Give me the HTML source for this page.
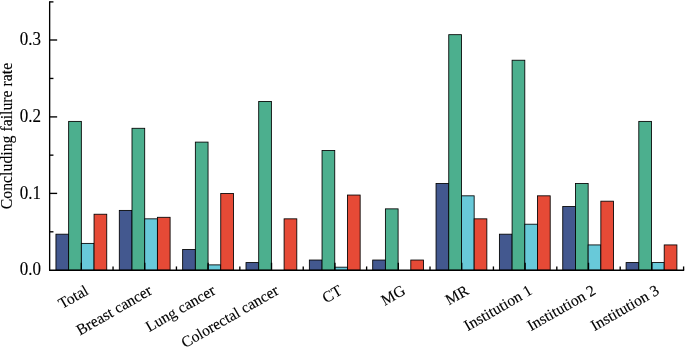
<!DOCTYPE html><html><head><meta charset="utf-8"><title>chart</title><style>html,body{margin:0;padding:0;background:#fff}body{width:685px;height:347px;overflow:hidden}</style></head><body><svg width="685" height="347" viewBox="0 0 685 347" style="display:block;font-family:'Liberation Serif',serif;font-size:16px" fill="#000">
<rect width="685" height="347" fill="#fff"/>
<rect x="55.95" y="234.19" width="12.70" height="36.06" fill="#43588f" stroke="#000" stroke-width="0.85"/>
<rect x="68.65" y="121.39" width="12.70" height="148.86" fill="#4caf8e" stroke="#000" stroke-width="0.85"/>
<rect x="81.35" y="243.39" width="12.70" height="26.86" fill="#68c9d9" stroke="#000" stroke-width="0.85"/>
<rect x="94.05" y="214.23" width="12.70" height="56.02" fill="#e64a36" stroke="#000" stroke-width="0.85"/>
<rect x="119.30" y="210.40" width="12.70" height="59.85" fill="#43588f" stroke="#000" stroke-width="0.85"/>
<rect x="132.00" y="128.29" width="12.70" height="141.96" fill="#4caf8e" stroke="#000" stroke-width="0.85"/>
<rect x="144.70" y="218.84" width="12.70" height="51.41" fill="#68c9d9" stroke="#000" stroke-width="0.85"/>
<rect x="157.40" y="217.30" width="12.70" height="52.95" fill="#e64a36" stroke="#000" stroke-width="0.85"/>
<rect x="182.65" y="249.53" width="12.70" height="20.72" fill="#43588f" stroke="#000" stroke-width="0.85"/>
<rect x="195.35" y="142.11" width="12.70" height="128.14" fill="#4caf8e" stroke="#000" stroke-width="0.85"/>
<rect x="208.05" y="264.88" width="12.70" height="5.37" fill="#68c9d9" stroke="#000" stroke-width="0.85"/>
<rect x="220.75" y="193.52" width="12.70" height="76.73" fill="#e64a36" stroke="#000" stroke-width="0.85"/>
<rect x="246.00" y="262.58" width="12.70" height="7.67" fill="#43588f" stroke="#000" stroke-width="0.85"/>
<rect x="258.70" y="101.44" width="12.70" height="168.81" fill="#4caf8e" stroke="#000" stroke-width="0.85"/>
<rect x="284.10" y="218.84" width="12.70" height="51.41" fill="#e64a36" stroke="#000" stroke-width="0.85"/>
<rect x="309.35" y="260.04" width="12.70" height="10.21" fill="#43588f" stroke="#000" stroke-width="0.85"/>
<rect x="322.05" y="150.55" width="12.70" height="119.70" fill="#4caf8e" stroke="#000" stroke-width="0.85"/>
<rect x="334.75" y="267.18" width="12.70" height="3.07" fill="#68c9d9" stroke="#000" stroke-width="0.85"/>
<rect x="347.45" y="195.05" width="12.70" height="75.20" fill="#e64a36" stroke="#000" stroke-width="0.85"/>
<rect x="372.70" y="260.04" width="12.70" height="10.21" fill="#43588f" stroke="#000" stroke-width="0.85"/>
<rect x="385.40" y="208.86" width="12.70" height="61.39" fill="#4caf8e" stroke="#000" stroke-width="0.85"/>
<rect x="410.80" y="260.04" width="12.70" height="10.21" fill="#e64a36" stroke="#000" stroke-width="0.85"/>
<rect x="436.05" y="183.54" width="12.70" height="86.71" fill="#43588f" stroke="#000" stroke-width="0.85"/>
<rect x="448.75" y="34.68" width="12.70" height="235.57" fill="#4caf8e" stroke="#000" stroke-width="0.85"/>
<rect x="461.45" y="195.82" width="12.70" height="74.43" fill="#68c9d9" stroke="#000" stroke-width="0.85"/>
<rect x="474.15" y="218.84" width="12.70" height="51.41" fill="#e64a36" stroke="#000" stroke-width="0.85"/>
<rect x="499.40" y="234.19" width="12.70" height="36.06" fill="#43588f" stroke="#000" stroke-width="0.85"/>
<rect x="512.10" y="60.23" width="12.70" height="210.02" fill="#4caf8e" stroke="#000" stroke-width="0.85"/>
<rect x="524.80" y="224.21" width="12.70" height="46.04" fill="#68c9d9" stroke="#000" stroke-width="0.85"/>
<rect x="537.50" y="195.82" width="12.70" height="74.43" fill="#e64a36" stroke="#000" stroke-width="0.85"/>
<rect x="562.75" y="206.56" width="12.70" height="63.69" fill="#43588f" stroke="#000" stroke-width="0.85"/>
<rect x="575.45" y="183.54" width="12.70" height="86.71" fill="#4caf8e" stroke="#000" stroke-width="0.85"/>
<rect x="588.15" y="244.93" width="12.70" height="25.32" fill="#68c9d9" stroke="#000" stroke-width="0.85"/>
<rect x="600.85" y="201.19" width="12.70" height="69.06" fill="#e64a36" stroke="#000" stroke-width="0.85"/>
<rect x="626.10" y="262.58" width="12.70" height="7.67" fill="#43588f" stroke="#000" stroke-width="0.85"/>
<rect x="638.80" y="121.39" width="12.70" height="148.86" fill="#4caf8e" stroke="#000" stroke-width="0.85"/>
<rect x="651.50" y="262.58" width="12.70" height="7.67" fill="#68c9d9" stroke="#000" stroke-width="0.85"/>
<rect x="664.20" y="244.93" width="12.70" height="25.32" fill="#e64a36" stroke="#000" stroke-width="0.85"/>
<g stroke="#000" stroke-width="1.35" fill="none">
<path d="M49.65 1.25V270.80"/>
<path d="M49.1 270.25H684.15"/>
<path d="M49.65 1.90h3.8"/>
<path d="M49.65 40.00h7.5"/>
<path d="M49.65 78.45h3.8"/>
<path d="M49.65 116.90h7.5"/>
<path d="M49.65 155.15h3.8"/>
<path d="M49.65 193.40h7.5"/>
<path d="M49.65 231.80h3.8"/>
<path d="M81.35 270.25v-7.5"/>
<path d="M113.05 270.25v-3.8"/>
<path d="M144.74 270.25v-7.5"/>
<path d="M176.44 270.25v-3.8"/>
<path d="M208.14 270.25v-7.5"/>
<path d="M239.84 270.25v-3.8"/>
<path d="M271.53 270.25v-7.5"/>
<path d="M303.23 270.25v-3.8"/>
<path d="M334.93 270.25v-7.5"/>
<path d="M366.62 270.25v-3.8"/>
<path d="M398.32 270.25v-7.5"/>
<path d="M430.02 270.25v-3.8"/>
<path d="M461.72 270.25v-7.5"/>
<path d="M493.42 270.25v-3.8"/>
<path d="M525.11 270.25v-7.5"/>
<path d="M556.81 270.25v-3.8"/>
<path d="M588.51 270.25v-7.5"/>
<path d="M620.21 270.25v-3.8"/>
<path d="M651.90 270.25v-7.5"/>
<path d="M683.60 270.25v-3.8"/>
</g>
<g stroke="#000" stroke-width="0.12" stroke-linejoin="round">
<text transform="translate(41.0 275.25) scale(1 1.08)" text-anchor="end" font-size="17">0.0</text>
<text transform="translate(41.0 198.52) scale(1 1.08)" text-anchor="end" font-size="17">0.1</text>
<text transform="translate(41.0 121.78) scale(1 1.08)" text-anchor="end" font-size="17">0.2</text>
<text transform="translate(41.0 45.05) scale(1 1.08)" text-anchor="end" font-size="17">0.3</text>
<text transform="translate(12.3 136) rotate(-90)" text-anchor="middle" font-size="15.8">Concluding failure rate</text>
<text transform="translate(84.15 284.0) rotate(-30)" text-anchor="end" dy="0.7em" font-size="15.6">Total</text>
<text transform="translate(147.54 284.0) rotate(-30)" text-anchor="end" dy="0.7em" font-size="15.6">Breast cancer</text>
<text transform="translate(210.94 284.0) rotate(-30)" text-anchor="end" dy="0.7em" font-size="15.6">Lung cancer</text>
<text transform="translate(274.33 284.0) rotate(-30)" text-anchor="end" dy="0.7em" font-size="15.6">Colorectal cancer</text>
<text transform="translate(337.73 284.0) rotate(-30)" text-anchor="end" dy="0.7em" font-size="15.6">CT</text>
<text transform="translate(401.12 284.0) rotate(-30)" text-anchor="end" dy="0.7em" font-size="15.6">MG</text>
<text transform="translate(464.52 284.0) rotate(-30)" text-anchor="end" dy="0.7em" font-size="15.6">MR</text>
<text transform="translate(527.91 284.0) rotate(-30)" text-anchor="end" dy="0.7em" font-size="15.6">Institution 1</text>
<text transform="translate(591.31 284.0) rotate(-30)" text-anchor="end" dy="0.7em" font-size="15.6">Institution 2</text>
<text transform="translate(654.70 284.0) rotate(-30)" text-anchor="end" dy="0.7em" font-size="15.6">Institution 3</text>
</g>
</svg></body></html>
